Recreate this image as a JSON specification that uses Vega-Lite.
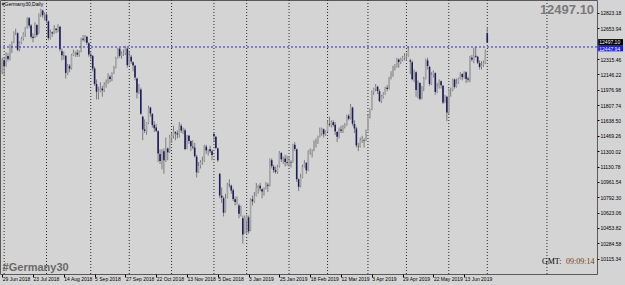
{
"$schema":"https://vega.github.io/schema/vega-lite/v6.json",
"width":597,"height":274,
"autosize":{"type":"none"},
"padding":{"left":0,"top":0,"right":28,"bottom":11},
"background":"#d4d4d4",
"config":{"view":{"stroke":"#5a5a5a","strokeWidth":1},"font":"Liberation Sans","axis":{"labelOverlap":false,"labelFontSize":5,"labelColor":"#000000","tickColor":"#000000","grid":false,"domain":false}},
"datasets":{
"one":[{}],
"months":[{"i":1},{"i":23},{"i":46},{"i":66},{"i":88},{"i":110},{"i":127},{"i":149},{"i":169},{"i":190},{"i":210},{"i":232},{"i":252},{"i":283}],
"bars":[
{"i":0,"o":12180,"h":12330,"l":12150,"c":12306},
{"i":1,"o":12300,"h":12330,"l":12140,"c":12238},
{"i":2,"o":12240,"h":12390,"l":12230,"c":12349},
{"i":3,"o":12350,"h":12380,"l":12290,"c":12317},
{"i":4,"o":12320,"h":12480,"l":12300,"c":12465},
{"i":5,"o":12460,"h":12510,"l":12380,"c":12496},
{"i":6,"o":12500,"h":12620,"l":12490,"c":12609},
{"i":7,"o":12610,"h":12650,"l":12580,"c":12610},
{"i":8,"o":12600,"h":12610,"l":12400,"c":12417},
{"i":9,"o":12420,"h":12510,"l":12400,"c":12492},
{"i":10,"o":12490,"h":12560,"l":12480,"c":12541},
{"i":11,"o":12540,"h":12610,"l":12520,"c":12595},
{"i":12,"o":12595,"h":12670,"l":12560,"c":12662},
{"i":13,"o":12660,"h":12775,"l":12650,"c":12765},
{"i":14,"o":12765,"h":12780,"l":12660,"c":12686},
{"i":15,"o":12685,"h":12700,"l":12540,"c":12561},
{"i":16,"o":12560,"h":12600,"l":12500,"c":12548},
{"i":17,"o":12550,"h":12720,"l":12545,"c":12690},
{"i":18,"o":12690,"h":12700,"l":12560,"c":12579},
{"i":19,"o":12600,"h":12820,"l":12590,"c":12809},
{"i":20,"o":12810,"h":12870,"l":12780,"c":12860},
{"i":21,"o":12850,"h":12860,"l":12770,"c":12798},
{"i":22,"o":12800,"h":12830,"l":12740,"c":12806},
{"i":23,"o":12805,"h":12830,"l":12710,"c":12737},
{"i":24,"o":12730,"h":12740,"l":12520,"c":12546},
{"i":25,"o":12550,"h":12640,"l":12530,"c":12616},
{"i":26,"o":12610,"h":12620,"l":12560,"c":12598},
{"i":27,"o":12600,"h":12690,"l":12590,"c":12648},
{"i":28,"o":12650,"h":12660,"l":12600,"c":12634},
{"i":29,"o":12630,"h":12700,"l":12610,"c":12676},
{"i":30,"o":12670,"h":12680,"l":12400,"c":12424},
{"i":31,"o":12400,"h":12430,"l":12300,"c":12358},
{"i":32,"o":12360,"h":12400,"l":12310,"c":12358},
{"i":33,"o":12350,"h":12360,"l":12100,"c":12163},
{"i":34,"o":12160,"h":12260,"l":12140,"c":12237},
{"i":35,"o":12240,"h":12260,"l":12170,"c":12210},
{"i":36,"o":12210,"h":12370,"l":12200,"c":12358},
{"i":37,"o":12360,"h":12420,"l":12350,"c":12384},
{"i":38,"o":12380,"h":12400,"l":12340,"c":12385},
{"i":39,"o":12385,"h":12420,"l":12340,"c":12365},
{"i":40,"o":12360,"h":12410,"l":12340,"c":12394},
{"i":41,"o":12400,"h":12550,"l":12390,"c":12538},
{"i":42,"o":12540,"h":12580,"l":12510,"c":12527},
{"i":43,"o":12525,"h":12580,"l":12500,"c":12562},
{"i":44,"o":12560,"h":12570,"l":12470,"c":12494},
{"i":45,"o":12490,"h":12500,"l":12340,"c":12364},
{"i":46,"o":12360,"h":12390,"l":12310,"c":12346},
{"i":47,"o":12350,"h":12360,"l":12180,"c":12210},
{"i":48,"o":12210,"h":12230,"l":12020,"c":12040},
{"i":49,"o":12040,"h":12090,"l":11870,"c":11955},
{"i":50,"o":11950,"h":12010,"l":11870,"c":11959},
{"i":51,"o":11960,"h":12060,"l":11950,"c":11986},
{"i":52,"o":11990,"h":12020,"l":11900,"c":11970},
{"i":53,"o":11970,"h":12060,"l":11950,"c":12032},
{"i":54,"o":12030,"h":12090,"l":12000,"c":12055},
{"i":55,"o":12055,"h":12160,"l":12040,"c":12124},
{"i":56,"o":12120,"h":12140,"l":12060,"c":12096},
{"i":57,"o":12090,"h":12170,"l":12070,"c":12157},
{"i":58,"o":12160,"h":12240,"l":12150,"c":12219},
{"i":59,"o":12220,"h":12340,"l":12210,"c":12326},
{"i":60,"o":12330,"h":12440,"l":12320,"c":12431},
{"i":61,"o":12430,"h":12440,"l":12330,"c":12350},
{"i":62,"o":12350,"h":12400,"l":12320,"c":12374},
{"i":63,"o":12375,"h":12420,"l":12350,"c":12385},
{"i":64,"o":12380,"h":12460,"l":12360,"c":12435},
{"i":65,"o":12430,"h":12440,"l":12220,"c":12247},
{"i":66,"o":12250,"h":12400,"l":12240,"c":12346},
{"i":67,"o":12340,"h":12360,"l":12260,"c":12287},
{"i":68,"o":12280,"h":12290,"l":12180,"c":12244},
{"i":69,"o":12240,"h":12250,"l":12080,"c":12111},
{"i":70,"o":12100,"h":12110,"l":11880,"c":11947},
{"i":71,"o":11950,"h":12040,"l":11930,"c":11977},
{"i":72,"o":11980,"h":12000,"l":11700,"c":11712},
{"i":73,"o":11680,"h":11690,"l":11420,"c":11539},
{"i":74,"o":11540,"h":11650,"l":11500,"c":11523},
{"i":75,"o":11520,"h":11620,"l":11480,"c":11614},
{"i":76,"o":11610,"h":11800,"l":11600,"c":11777},
{"i":77,"o":11780,"h":11790,"l":11680,"c":11715},
{"i":78,"o":11710,"h":11720,"l":11560,"c":11589},
{"i":79,"o":11590,"h":11630,"l":11510,"c":11553},
{"i":80,"o":11560,"h":11600,"l":11510,"c":11524},
{"i":81,"o":11520,"h":11530,"l":11180,"c":11274},
{"i":82,"o":11270,"h":11320,"l":11160,"c":11191},
{"i":83,"o":11180,"h":11320,"l":11100,"c":11307},
{"i":84,"o":11300,"h":11330,"l":11050,"c":11201},
{"i":85,"o":11200,"h":11450,"l":11180,"c":11336},
{"i":86,"o":11330,"h":11340,"l":11200,"c":11287},
{"i":87,"o":11290,"h":11480,"l":11280,"c":11447},
{"i":88,"o":11450,"h":11500,"l":11390,"c":11469},
{"i":89,"o":11470,"h":11580,"l":11440,"c":11519},
{"i":90,"o":11510,"h":11520,"l":11420,"c":11495},
{"i":91,"o":11495,"h":11530,"l":11440,"c":11484},
{"i":92,"o":11480,"h":11620,"l":11450,"c":11579},
{"i":93,"o":11580,"h":11600,"l":11500,"c":11527},
{"i":94,"o":11520,"h":11560,"l":11490,"c":11529},
{"i":95,"o":11530,"h":11550,"l":11310,"c":11325},
{"i":96,"o":11330,"h":11480,"l":11320,"c":11472},
{"i":97,"o":11470,"h":11480,"l":11380,"c":11412},
{"i":98,"o":11410,"h":11420,"l":11300,"c":11353},
{"i":99,"o":11350,"h":11420,"l":11320,"c":11341},
{"i":100,"o":11340,"h":11390,"l":11230,"c":11244},
{"i":101,"o":11240,"h":11260,"l":11010,"c":11066},
{"i":102,"o":11070,"h":11180,"l":11060,"c":11138},
{"i":103,"o":11140,"h":11200,"l":11110,"c":11180},
{"i":104,"o":11180,"h":11240,"l":11150,"c":11192},
{"i":105,"o":11190,"h":11370,"l":11180,"c":11354},
{"i":106,"o":11350,"h":11370,"l":11270,"c":11309},
{"i":107,"o":11300,"h":11320,"l":11250,"c":11299},
{"i":108,"o":11320,"h":11360,"l":11280,"c":11298},
{"i":109,"o":11300,"h":11320,"l":11200,"c":11257},
{"i":110,"o":11490,"h":11510,"l":11400,"c":11465},
{"i":111,"o":11460,"h":11470,"l":11320,"c":11335},
{"i":112,"o":11330,"h":11340,"l":11180,"c":11200},
{"i":113,"o":11050,"h":11060,"l":10780,"c":10811},
{"i":114,"o":10810,"h":10900,"l":10730,"c":10788},
{"i":115,"o":10780,"h":10800,"l":10580,"c":10622},
{"i":116,"o":10630,"h":10830,"l":10620,"c":10780},
{"i":117,"o":10790,"h":10950,"l":10780,"c":10931},
{"i":118,"o":10930,"h":10990,"l":10900,"c":10924},
{"i":119,"o":10920,"h":10930,"l":10830,"c":10866},
{"i":120,"o":10870,"h":10890,"l":10750,"c":10772},
{"i":121,"o":10770,"h":10800,"l":10700,"c":10740},
{"i":122,"o":10740,"h":10800,"l":10710,"c":10767},
{"i":123,"o":10700,"h":10720,"l":10560,"c":10611},
{"i":124,"o":10610,"h":10700,"l":10580,"c":10634},
{"i":125,"o":10560,"h":10590,"l":10280,"c":10382},
{"i":126,"o":10400,"h":10590,"l":10390,"c":10559},
{"i":127,"o":10540,"h":10600,"l":10380,"c":10580},
{"i":128,"o":10570,"h":10590,"l":10390,"c":10416},
{"i":129,"o":10430,"h":10780,"l":10420,"c":10768},
{"i":130,"o":10770,"h":10810,"l":10700,"c":10747},
{"i":131,"o":10750,"h":10850,"l":10730,"c":10804},
{"i":132,"o":10810,"h":10950,"l":10800,"c":10894},
{"i":133,"o":10890,"h":10930,"l":10830,"c":10921},
{"i":134,"o":10920,"h":10950,"l":10860,"c":10888},
{"i":135,"o":10880,"h":10890,"l":10780,"c":10856},
{"i":136,"o":10860,"h":10900,"l":10810,"c":10892},
{"i":137,"o":10890,"h":10960,"l":10880,"c":10931},
{"i":138,"o":10930,"h":10950,"l":10850,"c":10918},
{"i":139,"o":10920,"h":11220,"l":10910,"c":11205},
{"i":140,"o":11200,"h":11220,"l":11110,"c":11136},
{"i":141,"o":11130,"h":11150,"l":11060,"c":11090},
{"i":142,"o":11090,"h":11130,"l":11050,"c":11071},
{"i":143,"o":11070,"h":11150,"l":11050,"c":11130},
{"i":144,"o":11130,"h":11300,"l":11120,"c":11282},
{"i":145,"o":11280,"h":11290,"l":11180,"c":11210},
{"i":146,"o":11210,"h":11240,"l":11160,"c":11218},
{"i":147,"o":11220,"h":11260,"l":11130,"c":11181},
{"i":148,"o":11180,"h":11250,"l":11140,"c":11173},
{"i":149,"o":11170,"h":11240,"l":11130,"c":11180},
{"i":150,"o":11180,"h":11200,"l":11120,"c":11176},
{"i":151,"o":11180,"h":11380,"l":11170,"c":11368},
{"i":152,"o":11370,"h":11400,"l":11300,"c":11325},
{"i":153,"o":11320,"h":11330,"l":10960,"c":10990},
{"i":154,"o":10990,"h":11000,"l":10860,"c":10907},
{"i":155,"o":10910,"h":11050,"l":10900,"c":11014},
{"i":156,"o":11010,"h":11150,"l":11000,"c":11126},
{"i":157,"o":11130,"h":11200,"l":11120,"c":11167},
{"i":158,"o":11170,"h":11180,"l":11050,"c":11089},
{"i":159,"o":11090,"h":11310,"l":11080,"c":11299},
{"i":160,"o":11300,"h":11330,"l":11260,"c":11309},
{"i":161,"o":11310,"h":11320,"l":11230,"c":11309},
{"i":162,"o":11310,"h":11420,"l":11300,"c":11401},
{"i":163,"o":11400,"h":11440,"l":11340,"c":11423},
{"i":164,"o":11420,"h":11470,"l":11380,"c":11457},
{"i":165,"o":11460,"h":11560,"l":11450,"c":11505},
{"i":166,"o":11500,"h":11560,"l":11470,"c":11540},
{"i":167,"o":11540,"h":11550,"l":11450,"c":11487},
{"i":168,"o":11490,"h":11530,"l":11470,"c":11516},
{"i":169,"o":11520,"h":11640,"l":11510,"c":11602},
{"i":170,"o":11600,"h":11680,"l":11570,"c":11592},
{"i":171,"o":11590,"h":11640,"l":11560,"c":11620},
{"i":172,"o":11620,"h":11640,"l":11570,"c":11588},
{"i":173,"o":11590,"h":11620,"l":11480,"c":11518},
{"i":174,"o":11510,"h":11520,"l":11400,"c":11458},
{"i":175,"o":11460,"h":11560,"l":11440,"c":11543},
{"i":176,"o":11540,"h":11580,"l":11500,"c":11524},
{"i":177,"o":11520,"h":11590,"l":11500,"c":11572},
{"i":178,"o":11570,"h":11610,"l":11550,"c":11587},
{"i":179,"o":11590,"h":11700,"l":11580,"c":11686},
{"i":180,"o":11690,"h":11710,"l":11640,"c":11657},
{"i":181,"o":11660,"h":11820,"l":11650,"c":11788},
{"i":182,"o":11780,"h":11790,"l":11580,"c":11603},
{"i":183,"o":11600,"h":11640,"l":11500,"c":11550},
{"i":184,"o":11550,"h":11570,"l":11340,"c":11364},
{"i":185,"o":11350,"h":11390,"l":11300,"c":11346},
{"i":186,"o":11350,"h":11450,"l":11340,"c":11419},
{"i":187,"o":11420,"h":11470,"l":11390,"c":11428},
{"i":188,"o":11420,"h":11440,"l":11340,"c":11414},
{"i":189,"o":11420,"h":11540,"l":11410,"c":11526},
{"i":190,"o":11530,"h":11700,"l":11520,"c":11681},
{"i":191,"o":11680,"h":11770,"l":11660,"c":11754},
{"i":192,"o":11760,"h":11970,"l":11750,"c":11954},
{"i":193,"o":11950,"h":12000,"l":11920,"c":11988},
{"i":194,"o":11990,"h":12040,"l":11960,"c":12010},
{"i":195,"o":12010,"h":12020,"l":11930,"c":11963},
{"i":196,"o":11960,"h":11980,"l":11840,"c":11851},
{"i":197,"o":11850,"h":11920,"l":11830,"c":11905},
{"i":198,"o":11900,"h":11950,"l":11880,"c":11935},
{"i":199,"o":11930,"h":12010,"l":11920,"c":11999},
{"i":200,"o":12000,"h":12030,"l":11960,"c":11986},
{"i":201,"o":11990,"h":12120,"l":11980,"c":12101},
{"i":202,"o":12100,"h":12180,"l":12090,"c":12153},
{"i":203,"o":12150,"h":12240,"l":12120,"c":12222},
{"i":204,"o":12220,"h":12260,"l":12190,"c":12236},
{"i":205,"o":12240,"h":12330,"l":12220,"c":12313},
{"i":206,"o":12310,"h":12320,"l":12220,"c":12283},
{"i":207,"o":12280,"h":12330,"l":12260,"c":12315},
{"i":208,"o":12310,"h":12350,"l":12290,"c":12328},
{"i":209,"o":12330,"h":12380,"l":12300,"c":12344},
{"i":210,"o":12340,"h":12380,"l":12300,"c":12345},
{"i":211,"o":12350,"h":12450,"l":12340,"c":12412},
{"i":212,"o":12300,"h":12320,"l":12150,"c":12286},
{"i":213,"o":12280,"h":12300,"l":12080,"c":12093},
{"i":214,"o":12090,"h":12200,"l":12060,"c":12179},
{"i":215,"o":12170,"h":12180,"l":11900,"c":11974},
{"i":216,"o":11970,"h":12080,"l":11880,"c":12060},
{"i":217,"o":12050,"h":12060,"l":11860,"c":11877},
{"i":218,"o":11880,"h":12020,"l":11870,"c":12011},
{"i":219,"o":12010,"h":12120,"l":11960,"c":12100},
{"i":220,"o":12100,"h":12320,"l":12090,"c":12310},
{"i":221,"o":12300,"h":12330,"l":12200,"c":12238},
{"i":222,"o":12230,"h":12240,"l":12020,"c":12041},
{"i":223,"o":12040,"h":12170,"l":12030,"c":12143},
{"i":224,"o":12140,"h":12190,"l":12110,"c":12169},
{"i":225,"o":12160,"h":12170,"l":11920,"c":11952},
{"i":226,"o":11950,"h":12050,"l":11940,"c":12011},
{"i":227,"o":12010,"h":12090,"l":11990,"c":12071},
{"i":228,"o":12070,"h":12080,"l":11990,"c":12027},
{"i":229,"o":12020,"h":12030,"l":11820,"c":11837},
{"i":230,"o":11840,"h":11920,"l":11830,"c":11902},
{"i":231,"o":11900,"h":11910,"l":11630,"c":11727},
{"i":232,"o":11730,"h":11990,"l":11700,"c":11971},
{"i":233,"o":11970,"h":12000,"l":11900,"c":11971},
{"i":234,"o":11970,"h":12100,"l":11960,"c":12090},
{"i":235,"o":12090,"h":12100,"l":11990,"c":12009},
{"i":236,"o":12010,"h":12100,"l":12000,"c":12045},
{"i":237,"o":12050,"h":12110,"l":12040,"c":12097},
{"i":238,"o":12100,"h":12170,"l":12090,"c":12157},
{"i":239,"o":12150,"h":12160,"l":12080,"c":12116},
{"i":240,"o":12110,"h":12180,"l":12100,"c":12170},
{"i":241,"o":12170,"h":12180,"l":12050,"c":12096},
{"i":242,"o":12100,"h":12120,"l":12060,"c":12086},
{"i":243,"o":12090,"h":12350,"l":12060,"c":12332},
{"i":244,"o":12330,"h":12360,"l":12290,"c":12309},
{"i":245,"o":12300,"h":12440,"l":12270,"c":12355},
{"i":246,"o":12350,"h":12450,"l":12330,"c":12340},
{"i":247,"o":12340,"h":12350,"l":12260,"c":12275},
{"i":248,"o":12270,"h":12300,"l":12200,"c":12228},
{"i":249,"o":12230,"h":12290,"l":12200,"c":12249},
{"i":250,"o":12250,"h":12300,"l":12230,"c":12271},
{"i":251,"o":12270,"h":12420,"l":12260,"c":12399},
{"i":252,"o":12600,"h":12660,"l":12490,"c":12497}
]},
"layer":[
{"data":{"name":"months"},
 "mark":{"type":"rule","color":"#2a2a2a","strokeDash":[1,2],"strokeWidth":1},
 "encoding":{"x":{"field":"i","type":"quantitative","scale":{"domain":[-1.15,309],"nice":false,"zero":false},
   "axis":{"orient":"bottom","values":[0,16,32,48,64,80,96,112,128,144,160,176,192,208,224,240],"tickCount":60,
     "labelExpr":"['29 Jun 2018','23 Jul 2018','14 Aug 2018','5 Sep 2018','27 Sep 2018','22 Oct 2018','13 Nov 2018','5 Dec 2018','3 Jan 2019','25 Jan 2019','18 Feb 2019','12 Mar 2019','3 Apr 2019','29 Apr 2019','22 May 2019','13 Jun 2019'][round(datum.value/16)]",
     "tickSize":3,"labelAlign":"left","labelBaseline":"top","labelPadding":-1,"labelFlush":false,"labelOverlap":false,"labelBound":false,"title":null}}}},
{"data":{"name":"bars"},
 "mark":{"type":"rule","color":"#7c7c7c","strokeWidth":1},
 "encoding":{"x":{"field":"i","type":"quantitative"},
   "y":{"field":"l","type":"quantitative","scale":{"domain":[9946,12966],"nice":false,"zero":false},
     "axis":{"orient":"right","values":[10115.34,10284.58,10453.82,10623.06,10792.30,10961.54,11130.78,11300.02,11469.26,11638.50,11807.74,11976.98,12146.22,12315.46,12653.94,12823.18],"tickCount":60,
       "format":".2f","tickSize":2,"labelPadding":1,"labelOverlap":false,"labelBaseline":"middle","title":null}},
   "y2":{"field":"h"}}},
{"data":{"name":"bars"},
 "mark":{"type":"rule","strokeWidth":1.6,"strokeCap":"butt"},
 "encoding":{"x":{"field":"i","type":"quantitative"},
   "y":{"field":"o","type":"quantitative"},"y2":{"field":"c"},
   "color":{"condition":{"test":"datum.c < datum.o","value":"#1c1c5e"},"value":"#a6a6a6"}}},
{"data":{"name":"one"},"mark":{"type":"rule","color":"#2a2ad2","strokeDash":[2,2],"strokeWidth":1},
 "encoding":{"y":{"datum":12448}}},
{"data":{"name":"one"},"mark":{"type":"text","text":"#Germany30,Daily","fontSize":5,"color":"#000000","align":"left","baseline":"middle"},
 "encoding":{"x":{"datum":-0.2},"y":{"datum":12917}}},
{"data":{"name":"one"},"mark":{"type":"text","text":"12497.10","fontSize":13,"fontWeight":"bold","color":"#7a7a7a","align":"right","baseline":"middle"},
 "encoding":{"x":{"datum":307.5},"y":{"datum":12856}}},
{"data":{"name":"one"},"mark":{"type":"text","text":"#Germany30","fontSize":11,"fontWeight":"bold","color":"#6a6a6a","align":"left","baseline":"middle"},
 "encoding":{"x":{"datum":0.2},"y":{"datum":10012}}},
{"data":{"name":"one"},"mark":{"type":"text","text":"GMT:","fontSize":8,"color":"#000000","align":"left","baseline":"middle","font":"Liberation Serif"},
 "encoding":{"x":{"datum":280.4},"y":{"datum":10078}}},
{"data":{"name":"one"},"mark":{"type":"text","text":"09:09:14","fontSize":8,"color":"#7a3c10","align":"left","baseline":"middle","font":"Liberation Serif"},
 "encoding":{"x":{"datum":292.9},"y":{"datum":10078}}},
{"data":{"name":"one"},"mark":{"type":"rect","color":"#000000"},
 "encoding":{"x":{"datum":309.6},"x2":{"datum":322.5},"y":{"datum":12535},"y2":{"datum":12462}}},
{"data":{"name":"one"},"mark":{"type":"rect","color":"#1a1aff"},
 "encoding":{"x":{"datum":309.6},"x2":{"datum":322.5},"y":{"datum":12460},"y2":{"datum":12400}}},
{"data":{"name":"one"},"mark":{"type":"text","text":"12497.10","fontSize":5,"color":"#ffffff","align":"left","baseline":"middle"},
 "encoding":{"x":{"datum":310.2},"y":{"datum":12498}}},
{"data":{"name":"one"},"mark":{"type":"text","text":"12447.94","fontSize":5,"color":"#ffffff","align":"left","baseline":"middle"},
 "encoding":{"x":{"datum":310.2},"y":{"datum":12430}}}
]
}
